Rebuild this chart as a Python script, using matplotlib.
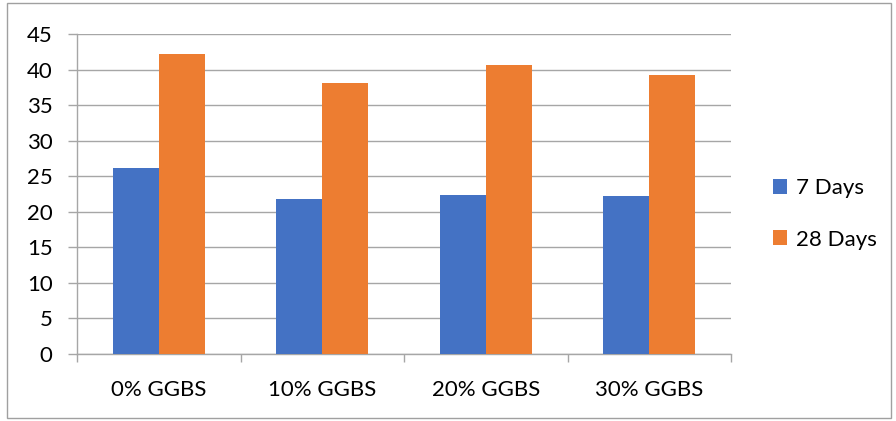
import numpy as np
import matplotlib.pyplot as plt
import matplotlib.patches as patches

# data
categories = ['0% GGBS', '10% GGBS', '20% GGBS', '30% GGBS']
days7 = [26.1, 21.8, 22.4, 22.2]
days28 = [42.2, 38.1, 40.6, 39.2]
series_names = ['7 Days', '28 Days']

BLUE = '#4472C4'
ORANGE = '#ED7D31'
GRID = '#a6a6a6'
FS = 16

plt.rcParams['font.family'] = ['Lato', 'DejaVu Sans']

fig = plt.figure(figsize=(8.96, 4.21), dpi=100)
ax = fig.add_axes([77/896, 1 - 354/421, (731 - 77)/896, (354 - 34)/421])

x = np.arange(len(categories))
w = 0.28
ax.bar(x - w/2, days7, width=w, color=BLUE, label=series_names[0], zorder=3)
ax.bar(x + w/2, days28, width=w, color=ORANGE, label=series_names[1], zorder=3)

ax.set_xlim(-0.5, len(categories) - 0.5)
ax.set_ylim(0, 45)
ax.set_yticks(np.arange(0, 46, 5))
ax.set_xticks(x)
ax.set_xticklabels(categories)
ax.set_xticks(np.arange(-0.5, len(categories)), minor=True)

ax.yaxis.grid(True, color=GRID, linewidth=1.0, zorder=0)
ax.tick_params(axis='y', length=6.5, width=1.0, color=GRID, pad=11, labelsize=FS)
ax.tick_params(axis='x', which='major', length=0, pad=19, labelsize=FS)
ax.tick_params(axis='x', which='minor', length=6, width=1.0, color=GRID)

for s in ['top', 'right']:
    ax.spines[s].set_visible(False)
for s in ['left', 'bottom']:
    ax.spines[s].set_color(GRID)
    ax.spines[s].set_linewidth(1.0)

fig.legend(loc='center left', bbox_to_anchor=(753/896, 1 - 214/421),
           frameon=False, fontsize=FS, handlelength=0.65, handleheight=0.65,
           handletextpad=0.4, labelspacing=1.4)

# outer chart border
fig.patches.append(patches.Rectangle((7/896, 3/421), 884/896, 415/421,
                                     transform=fig.transFigure, fill=False,
                                     edgecolor='#a0a0a0', linewidth=1.0))

plt.savefig('out.png', dpi=100)
